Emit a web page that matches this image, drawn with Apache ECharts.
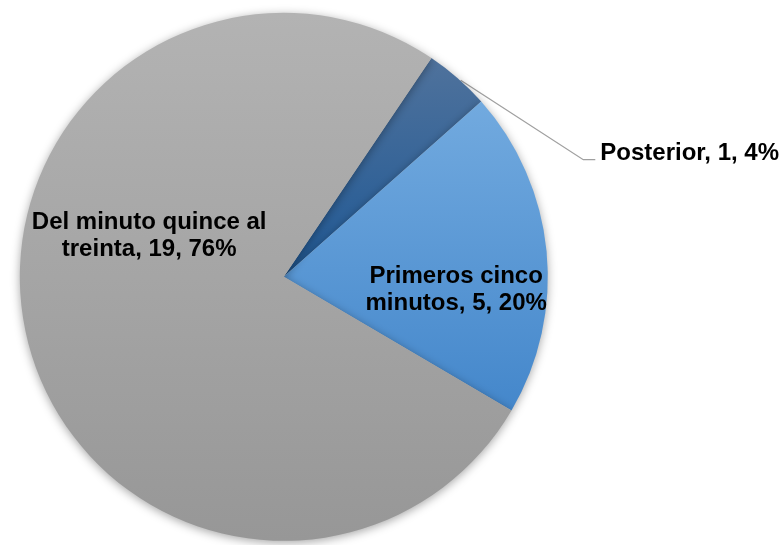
<!DOCTYPE html>
<html>
<head>
<meta charset="utf-8">
<script src="https://cdn.jsdelivr.net/npm/echarts@6/dist/echarts.min.js"></script>
<style>
html,body{margin:0;padding:0;background:#fff;}
#chart{width:784px;height:545px;}
</style>
</head>
<body>
<div id="chart"></div>
<script>
// Data
var categories = ['Posterior', 'Primeros cinco minutos', 'Del minuto quince al treinta'];
var values = [1, 5, 19];
var percents = [4, 20, 76];

var colorStops = [
  ['#4f729c', '#1f5894'],
  ['#72aadf', '#4487cb'],
  ['#b3b3b3', '#979797']
];
var labelPos = ['outside', 'inside', 'inside'];
var labelText = [
  'Posterior, 1, 4%',
  'Primeros cinco\nminutos, 5, 20%',
  'Del minuto quince al\ntreinta, 19, 76%'
];

var data = categories.map(function (c, i) {
  return {
    name: c,
    value: values[i],
    itemStyle: {
      color: {
        type: 'linear', x: 0, y: 0, x2: 0, y2: 1,
        colorStops: [{offset: 0, color: colorStops[i][0]}, {offset: 1, color: colorStops[i][1]}]
      }
    },
    label: {position: labelPos[i]},
    labelLine: {show: i === 0}
  };
});

var chart = echarts.init(document.getElementById('chart'), null, {renderer: 'canvas'});
chart.setOption({
  backgroundColor: '#ffffff',
  animation: false,
  series: [{
    type: 'pie',
    center: ['36.2%', '50.8%'],
    radius: [0, 264],
    startAngle: 56,
    clockwise: true,
    avoidLabelOverlap: false,
    itemStyle: {
      shadowBlur: 10,
      shadowColor: 'rgba(0,0,0,0.35)',
      shadowOffsetY: 2
    },
    label: {
      show: true,
      fontFamily: 'Liberation Sans, Arial, sans-serif',
      fontWeight: 'bold',
      fontSize: 24,
      lineHeight: 27,
      color: '#000',
      formatter: function (p) { return labelText[p.dataIndex]; }
    },
    labelLine: {
      show: true,
      length: 10,
      length2: 12,
      lineStyle: {color: '#a0a0a0', width: 1.3}
    },
    labelLayout: function (p) {
      if (p.dataIndex === 0) {
        var dx = 119, dy = 83;
        var r = p.labelRect;
        var pts = p.labelLinePoints;
        var lx = r.x + dx;
        var ly = r.y + dy + r.height / 2 + 6;
        var start = pts && pts.length ? pts[0] : [lx - 120, ly - 76];
        return {
          dx: dx, dy: dy,
          labelLinePoints: [[start[0] + 3, start[1] + 2], [lx - 17, ly], [lx - 5, ly]]
        };
      }
      if (p.dataIndex === 1) return {dx: 38, dy: 26};
      if (p.dataIndex === 2) return {dx: -3, dy: -71};
      return {};
    },
    data: data
  }]
});
</script>
</body>
</html>
